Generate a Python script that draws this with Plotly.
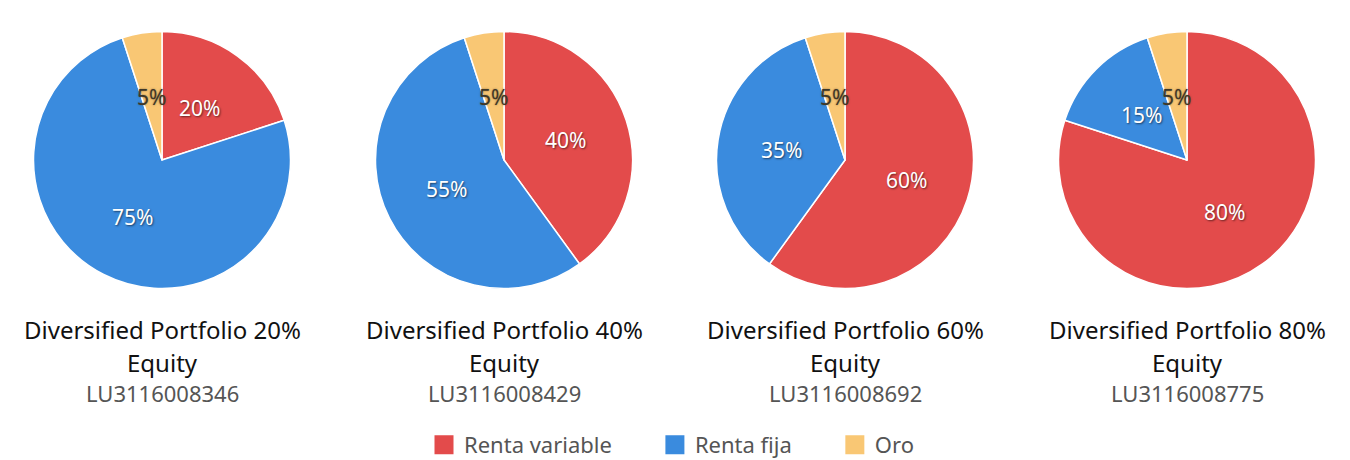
import math
import plotly.graph_objects as go

W, H = 1350, 460

categories = ["Renta variable", "Renta fija", "Oro"]
colors = ["#E34B4B", "#3A8BDE", "#F9C774"]
title_line1 = [
    "Diversified Portfolio 20%",
    "Diversified Portfolio 40%",
    "Diversified Portfolio 60%",
    "Diversified Portfolio 80%",
]
title_line2 = ["Equity", "Equity", "Equity", "Equity"]
isins = ["LU3116008346", "LU3116008429", "LU3116008692", "LU3116008775"]
renta_variable = [20, 40, 60, 80]
renta_fija = [75, 55, 35, 15]
oro = [5, 5, 5, 5]

centers_x = [162, 504, 845, 1187]
center_y = 160
radius = 128.5
FONT = "Noto Sans"


def px_x(X):
    return X / W


def px_y(Y):
    return 1 - Y / H


fig = go.Figure()
annotations = []
for i in range(4):
    vals = [renta_variable[i], renta_fija[i], oro[i]]
    cx = centers_x[i]
    fig.add_trace(go.Pie(
        labels=categories,
        values=vals,
        sort=False,
        direction="clockwise",
        rotation=0,
        marker=dict(colors=colors, line=dict(color="white", width=1.5)),
        textinfo="none",
        hoverinfo="label+percent",
        showlegend=False,
        domain=dict(
            x=[px_x(cx - radius), px_x(cx + radius)],
            y=[px_y(center_y + radius), px_y(center_y - radius)],
        ),
    ))
    total = sum(vals)
    cum = 0
    for j, v in enumerate(vals):
        mid = (cum + v / 2) / total * 2 * math.pi
        cum += v
        lx = cx + 0.5 * radius * math.sin(mid)
        ly = center_y - 0.5 * radius * math.cos(mid)
        dark = (j == 2)
        annotations.append(dict(
            x=px_x(lx), y=px_y(ly), xref="paper", yref="paper",
            text=f"{round(v / total * 100)}%", showarrow=False,
            xanchor="center", yanchor="middle",
            font=dict(family=FONT, size=21,
                      color="#3f3727" if dark else "white",
                      shadow="0px 0px 2px rgba(60,50,30,0.6)" if dark
                      else "1px 1px 2px rgba(0,0,0,0.55)"),
        ))
    annotations.append(dict(
        x=px_x(cx), y=px_y(329), xref="paper", yref="paper",
        text=title_line1[i], showarrow=False, xanchor="center", yanchor="middle",
        font=dict(family=FONT, size=24, color="#111111"),
    ))
    annotations.append(dict(
        x=px_x(cx), y=px_y(362), xref="paper", yref="paper",
        text=title_line2[i], showarrow=False, xanchor="center", yanchor="middle",
        font=dict(family=FONT, size=24, color="#111111"),
    ))
    annotations.append(dict(
        x=px_x(cx), y=px_y(393), xref="paper", yref="paper",
        text=isins[i], showarrow=False, xanchor="center", yanchor="middle",
        font=dict(family=FONT, size=22, color="#555555"),
    ))

# Legend entries (one per category, same colours as the slices)
pad = "\u00a0" * 6 + "\u2009"
legend_names = [categories[0] + pad, categories[1] + pad, categories[2]]
for name, col in zip(legend_names, colors):
    fig.add_trace(go.Scatter(
        x=[None], y=[None], mode="markers", name=name,
        marker=dict(symbol="square", size=16, color=col,
                    line=dict(color=col, width=3)),
        hoverinfo="skip", showlegend=True,
    ))

fig.update_layout(
    width=W, height=H,
    margin=dict(l=0, r=0, t=0, b=0, autoexpand=False),
    paper_bgcolor="white",
    plot_bgcolor="white",
    annotations=annotations,
    xaxis=dict(visible=False),
    yaxis=dict(visible=False),
    legend=dict(
        orientation="h", x=px_x(671.5), xanchor="center",
        y=px_y(445), yanchor="middle",
        font=dict(family=FONT, size=22, color="#555555"),
        itemsizing="trace",
        itemclick=False, itemdoubleclick=False,
    ),
)

fig.write_html(
    "out.html",
    config={"displayModeBar": False},
    post_script="document.body.style.margin='0';document.body.style.overflow='hidden';",
)
